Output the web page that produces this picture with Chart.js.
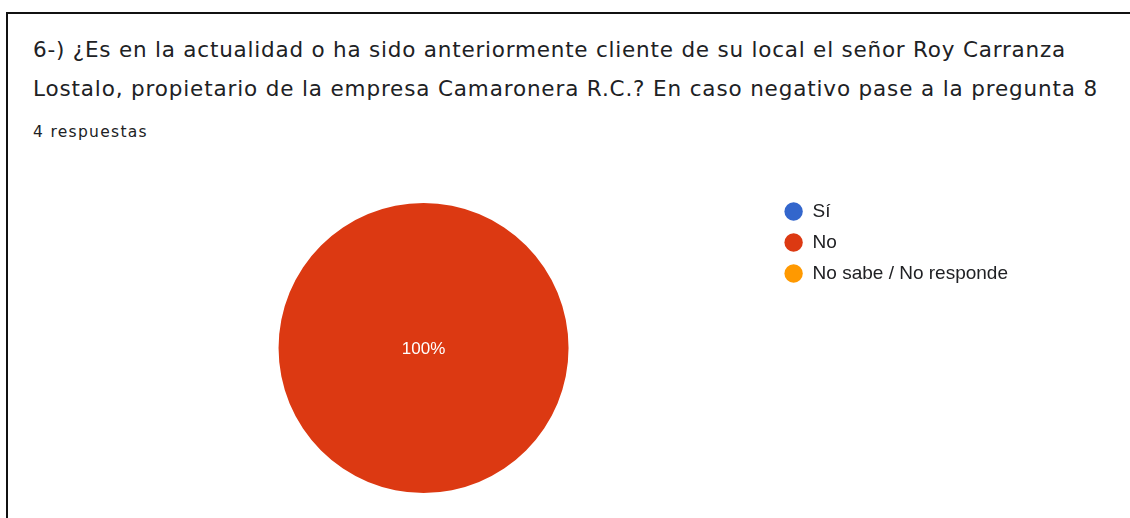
<!DOCTYPE html>
<html>
<head>
<meta charset="utf-8">
<script src="https://cdn.jsdelivr.net/npm/chart.js@4/dist/chart.umd.min.js"></script>
<style>
  html, body { margin: 0; padding: 0; background: #fff; }
  body { width: 1130px; height: 518px; position: relative; overflow: hidden; }
  .frame { position: absolute; left: 6px; top: 12px; width: 1200px; height: 600px;
           border-left: 2px solid #111; border-top: 2px solid #111; }
  .title { position: absolute; left: 33px; top: 30px; margin: 0; white-space: nowrap;
           font-family: "DejaVu Sans", sans-serif; font-size: 21.5px; line-height: 39px;
           font-weight: 400; color: #202124; }
  .title span { display: block; }
  .count { position: absolute; left: 33px; top: 123px; white-space: nowrap;
           font-family: "DejaVu Sans", sans-serif; font-size: 15.5px; color: #202124; }
  .chart { position: absolute; left: 0; top: 160px; width: 1130px; height: 358px; }
</style>
</head>
<body>
<div class="frame"></div>
<div class="title">
  <span data-w="1033">6-) ¿Es en la actualidad o ha sido anteriormente cliente de su local el señor Roy Carranza</span>
  <span data-w="1065">Lostalo, propietario de la empresa Camaronera R.C.? En caso negativo pase a la pregunta 8</span>
</div>
<div class="count" data-w="115">4 respuestas</div>
<div class="chart"><canvas id="c"></canvas></div>
<script>
// respuestas por opción (4 en total)
const labels = ['Sí', 'No', 'No sabe / No responde'];
const counts = [0, 4, 0];
const colors = ['#3366cc', '#dc3912', '#ff9900'];

// el texto del original es más ancho: ajustar el espaciado a su ancho
document.querySelectorAll('[data-w]').forEach(el => {
  el.style.display = 'inline-block';
  const w = el.getBoundingClientRect().width;
  el.style.letterSpacing = ((+el.dataset.w - w) / el.textContent.length) + 'px';
  el.style.display = el.tagName === 'SPAN' ? 'block' : '';
});

// porcentaje escrito dentro de cada porción
const pctLabels = {
  id: 'pctLabels',
  afterDatasetsDraw(chart) {
    const ctx = chart.ctx;
    const total = counts.reduce((a, b) => a + b, 0);
    chart.getDatasetMeta(0).data.forEach((arc, i) => {
      if (!counts[i]) return;
      const p = counts[i] === total ? { x: arc.x, y: arc.y } : arc.tooltipPosition();
      ctx.save();
      ctx.fillStyle = '#fff';
      ctx.font = '17px "Liberation Sans", Arial, sans-serif';
      ctx.textAlign = 'center'; ctx.textBaseline = 'middle';
      ctx.fillText(Math.round(counts[i] / total * 100) + '%', p.x, p.y + 1);
      ctx.restore();
    });
  }
};

new Chart(document.getElementById('c'), {
  type: 'pie',
  data: { labels, datasets: [{ data: counts, backgroundColor: colors, borderWidth: 0 }] },
  options: {
    responsive: true, maintainAspectRatio: false, animation: false,
    radius: 145,
    layout: { padding: { left: 75, right: 112, top: 30, bottom: 12 } },
    plugins: {
      tooltip: { enabled: false },
      legend: {
        position: 'right', align: 'start',
        labels: {
          usePointStyle: true, pointStyle: 'circle', boxHeight: 13, padding: 12,
          color: '#202124', font: { family: '"Liberation Sans", Arial, sans-serif', size: 19 }
        }
      }
    }
  },
  plugins: [pctLabels]
});
</script>
</body>
</html>
